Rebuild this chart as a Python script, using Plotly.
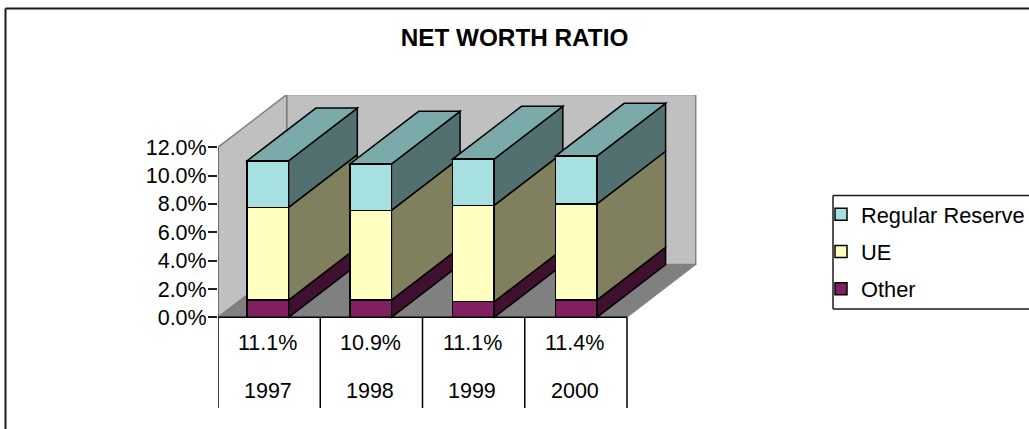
import plotly.graph_objects as go

# Data
categories = ["1997", "1998", "1999", "2000"]
other = [1.22, 1.22, 1.10, 1.22]
ue = [6.54, 6.33, 6.80, 6.78]
regular_reserve = [3.29, 3.27, 3.27, 3.38]
total_labels = ["11.1%", "10.9%", "11.1%", "11.4%"]
y_ticks = [0, 2, 4, 6, 8, 10, 12]
y_tick_labels = ["0.0%", "2.0%", "4.0%", "6.0%", "8.0%", "10.0%", "12.0%"]

# Layout geometry
W, H = 1029, 429
L, R, T, B = 218, 697, 95, 408
Y_RANGE = (-6.40, 15.69)
X_RANGE = (-0.5, 3.5 + 70 / 102.25)
DX, DY = 0.672, 3.72          # oblique depth of the floor, in axis units
BAR_W = 0.405
BAR_SHIFT = -0.012
BAR_PITCH = 1.005
Y_MAX = 12
FONT = "Liberation Sans, Arial, sans-serif"

SERIES = [
    ("Other", other, "#802060", "#401030", None),
    ("UE", ue, "#FFFFC0", "#80805F", None),
    ("Regular Reserve", regular_reserve, "#A6E0E0", "#527070", "#7AAAAA"),
]


def px(x):
    return (x - L) / (R - L)


def py(y):
    return (B - y) / (B - T)


def bar_x(i):
    return i * BAR_PITCH + BAR_SHIFT


def poly(points, fill, line="black", width=1.5):
    path = "M" + "L".join(f"{a},{b}" for a, b in points) + "Z"
    return dict(type="path", path=path, xref="x", yref="y", layer="below",
                fillcolor=fill, line=dict(color=line, width=width))


def seg(x0, y0, x1, y1, color="black", width=1.5, layer="above"):
    return dict(type="line", x0=x0, y0=y0, x1=x1, y1=y1, xref="x", yref="y",
                layer=layer, line=dict(color=color, width=width))


def pseg(x0, y0, x1, y1, width=1.5, color="#1a1a1a"):
    return dict(type="line", x0=px(x0), y0=py(y0), x1=px(x1), y1=py(y1),
                xref="paper", yref="paper", layer="above",
                line=dict(color=color, width=width))


x0, x1 = -0.5, len(categories) - 0.5
shapes = [
    # back wall, side wall, floor
    poly([(x0 + DX, DY), (x1 + DX, DY), (x1 + DX, Y_MAX + DY), (x0 + DX, Y_MAX + DY)],
         "#C0C0C0", "#808080", 1.5),
    poly([(x0, 0), (x0 + DX, DY), (x0 + DX, Y_MAX + DY), (x0, Y_MAX)],
         "#C0C0C0", "#808080", 1.5),
    poly([(x0, 0), (x1, 0), (x1 + DX, DY), (x0 + DX, DY)],
         "#808080", "#808080", 1),
]

# Depth faces of each column, built from the series values
for i in range(len(categories)):
    right = bar_x(i) + BAR_W / 2
    left = bar_x(i) - BAR_W / 2
    base = 0.0
    for name, values, front, side, top in SERIES:
        h = base + values[i]
        shapes.append(poly([(right, base), (right + DX, base + DY),
                            (right + DX, h + DY), (right, h)], side))
        if top:
            shapes.append(poly([(left, h), (right, h), (right + DX, h + DY),
                                (left + DX, h + DY)], top))
        base = h

# Axis line and data table rules
shapes.append(seg(x0, 0, x0, Y_MAX, "#606060", 1.5))
shapes.append(seg(x0, 0, x1, 0))
for k in range(len(categories) + 1):
    shapes.append(seg(x0 + k, Y_RANGE[0], x0 + k, 0))

# Outer frame (only top and left reach the picture) and legend box
shapes += [
    pseg(5.5, 8.5, W, 8.5, 2),
    pseg(5.5, 8.5, 5.5, H, 2),
    pseg(833, 195.5, W, 195.5),
    pseg(833, 309, W, 309),
    pseg(833, 195.5, 833, 309),
]

fig = go.Figure()
for rank, (name, values, front, side, top) in zip((3, 2, 1), SERIES):
    fig.add_trace(go.Bar(
        x=[bar_x(i) for i in range(len(categories))], y=values, name=name,
        width=BAR_W, legendgroup=name, legendrank=rank,
        marker=dict(color=front, line=dict(color="black", width=1.5)),
    ))

annotations = []
for i, (lab, cat) in enumerate(zip(total_labels, categories)):
    annotations.append(dict(x=i - 0.012, y=-1.81, text=lab, showarrow=False, xref="x", yref="y",
                            font=dict(family=FONT, size=21.5, color="black")))
    annotations.append(dict(x=i - 0.012, y=-5.2, text=cat, showarrow=False, xref="x", yref="y",
                            font=dict(family=FONT, size=21.5, color="black")))

fig.update_layout(
    width=W, height=H, barmode="stack",
    margin=dict(l=L, r=W - R, t=T, b=H - B, pad=0, autoexpand=False),
    paper_bgcolor="white", plot_bgcolor="white",
    font=dict(family=FONT, color="black"),
    title=dict(text="<b>NET WORTH RATIO</b>", x=514.5 / W, xref="container", xanchor="center",
               y=1 - 37 / H, yref="container", yanchor="middle",
               font=dict(family=FONT, size=24.3, color="black")),
    xaxis=dict(range=X_RANGE, showgrid=False, zeroline=False, showticklabels=False,
               ticks="", showline=False),
    yaxis=dict(range=Y_RANGE, tickmode="array", tickvals=y_ticks, ticktext=y_tick_labels,
               ticks="outside", ticklen=9, tickwidth=1.5, tickcolor="#202020",
               ticklabelstandoff=-3,
               tickfont=dict(family=FONT, size=21.5, color="black"),
               showgrid=False, zeroline=False, showline=False),
    legend=dict(x=px(821), y=py(193.5), xanchor="left", yanchor="top",
                traceorder="grouped", tracegroupgap=6,
                bgcolor="rgba(0,0,0,0)", borderwidth=0,
                font=dict(family=FONT, size=21.8, color="black")),
    shapes=shapes, annotations=annotations,
)

fig.write_html("out.html", post_script="document.body.style.margin='0';",
               config={"displayModeBar": False})
